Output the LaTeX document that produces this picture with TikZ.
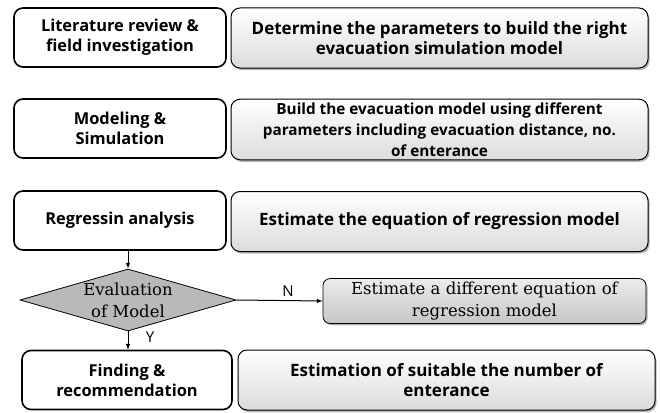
\documentclass[tikz,border=0pt]{standalone}
\usepackage{fontspec}
\setmainfont{DejaVu Serif}
\setsansfont{Open Sans}
\usetikzlibrary{arrows, shapes.geometric, shadows}

\tikzset{
  leftbox/.style={draw, line width=1.6pt, rounded corners=9pt, fill=white,
    minimum width=212pt, minimum height=59pt, align=center,
    font=\sffamily\bfseries\fontsize{16.4}{20}\selectfont},
  rightbox/.style={draw, line width=1pt, rounded corners=9pt,
    top color=white, bottom color=gray!28,
    drop shadow={opacity=0.6, shadow xshift=1.5pt, shadow yshift=-2pt},
    minimum width=417pt, minimum height=60pt, align=center,
    font=\sffamily\bfseries\fontsize{17}{20}\selectfont},
  altbox/.style={draw, line width=0.8pt, rounded corners=7pt,
    top color=gray!15, bottom color=gray!45,
    drop shadow={opacity=0.6, shadow xshift=1.5pt, shadow yshift=-2pt},
    minimum width=323pt, minimum height=42pt, align=center,
    font=\rmfamily\fontsize{16.5}{22}\selectfont},
  decision/.style={diamond, draw, line width=0.8pt, fill=gray!55, aspect=3.5,
    inner sep=0pt, minimum width=216pt, minimum height=62pt, align=center,
    font=\rmfamily\fontsize{16.5}{22}\selectfont},
  arr/.style={-latex, line width=1pt},
  yn/.style={font=\sffamily\fontsize{15}{16}\selectfont},
}

\begin{document}
\begin{tikzpicture}[x=1pt, y=-1pt]
	\useasboundingbox (0,0) rectangle (660,412);
	% row 1
	\path (120,37.5) node[leftbox] (lit) {Literature review \&\\field investigation};
	\path (439.5,38) node[rightbox] (param) {Determine the parameters to build the right\\evacuation simulation model};
	% row 2
	\path (120,128.5) node[leftbox] (model) {Modeling \&\\Simulation};
	\path (439.5,129.5) node[rightbox, font=\sffamily\bfseries\fontsize{15.3}{21}\selectfont] (build) {Build the evacuation model using different\\parameters including evacuation distance, no.\\of enterance};
	% row 3
	\path (120,220.5) node[leftbox] (regr) {Regressin analysis};
	\path (439.5,221.5) node[rightbox] (eqn) {Estimate the equation of regression model};
	% decision
	\path (128,300) node[decision] (eval) {Evaluation\\of Model};
	\path (484.5,301) node[altbox] (diff) {Estimate a different equation of\\regression model};
	% row 4
	\path (127,380) node[leftbox, minimum width=210pt] (find) {Finding \&\\recommendation};
	\path (446.5,380) node[rightbox] (suit) {Estimation of suitable the number of\\enterance};

	\draw [arr] (regr.south -| eval.north) -- (eval.north);
	\draw [arr] (eval.east) -- node[above, pos=0.6, yn] {N} (diff.west);
	\draw [arr] (eval.south) -- node[right, pos=0.3, xshift=14pt, yn] {Y} (find.north -| eval.south);
\end{tikzpicture}
\end{document}
